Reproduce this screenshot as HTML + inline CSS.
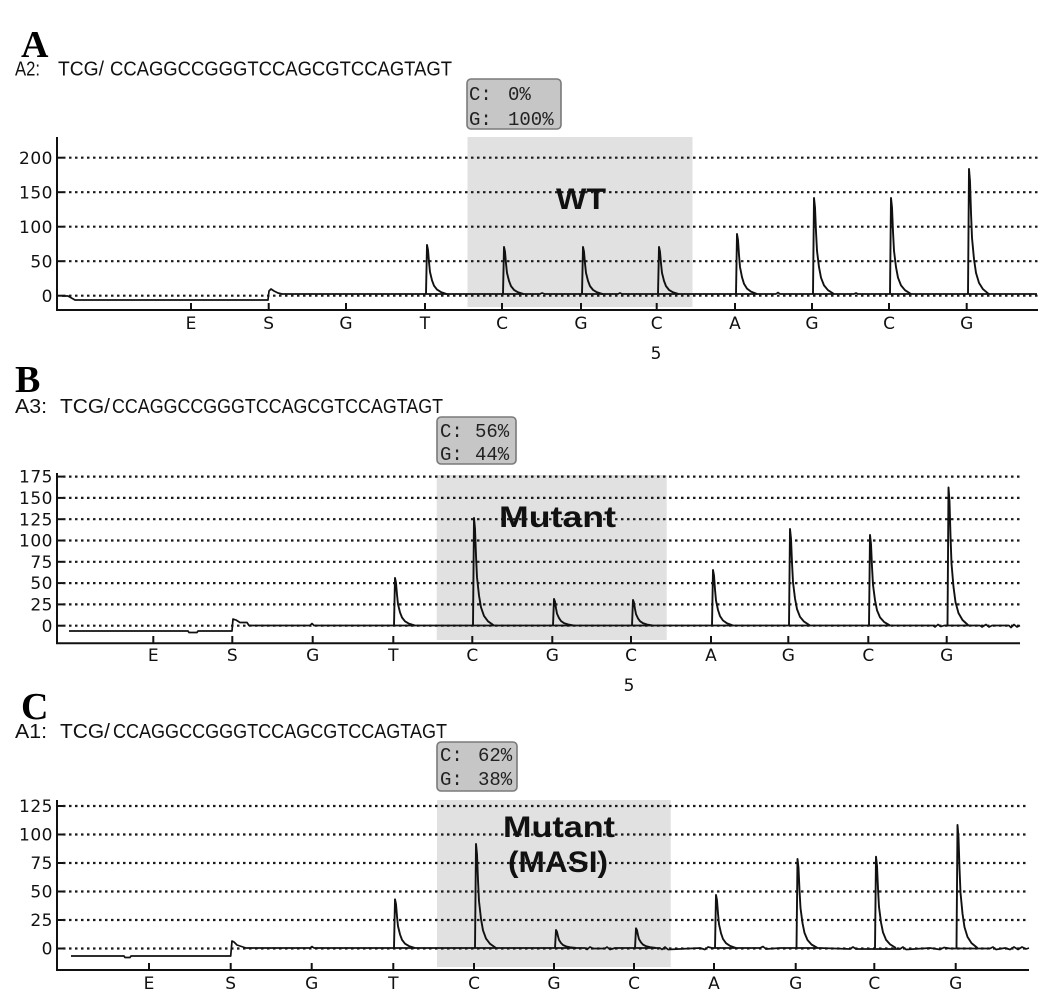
<!DOCTYPE html>
<html><head><meta charset="utf-8"><style>
html,body{margin:0;padding:0;background:#fff;}
svg{display:block;}
.tk{font-family:"DejaVu Sans","Liberation Sans",sans-serif;font-size:17px;fill:#111;letter-spacing:0.5px;}
.xl{font-family:"DejaVu Sans","Liberation Sans",sans-serif;font-size:17px;fill:#111;text-anchor:middle;}
.seq{font-family:"Liberation Sans",Arial,sans-serif;font-size:20px;fill:#111;}
.pl{font-family:"Liberation Serif",serif;font-weight:bold;font-size:38px;fill:#000;}
.mono{font-family:"Liberation Mono","DejaVu Sans Mono",monospace;font-size:19px;fill:#222;}
.ann{font-family:"Liberation Sans","DejaVu Sans",sans-serif;font-weight:bold;font-size:30px;fill:#111;}
.grid{stroke:#1a1a1a;stroke-width:2.2;stroke-dasharray:2.5 3.5;fill:none;}
.ax{stroke:#111;stroke-width:2;fill:none;}
.tr{stroke:#111;stroke-width:1.7;fill:none;stroke-linejoin:round;}
.pk{stroke:#111;stroke-width:1.9;fill:none;stroke-linejoin:round;}
.box{fill:#c6c6c6;stroke:#7a7a7a;stroke-width:1.6;}
.shade{fill:#e1e1e1;}
</style></head><body>
<svg width="1045" height="1002" viewBox="0 0 1045 1002" xmlns="http://www.w3.org/2000/svg">
<rect width="1045" height="1002" fill="#fff"/>

<!-- ================= PANEL A ================= -->
<text class="pl" x="21" y="57">A</text>
<text class="seq" x="15" y="75.5" textLength="25" lengthAdjust="spacingAndGlyphs">A2:</text>
<text class="seq" x="58" y="75.5" textLength="46" lengthAdjust="spacingAndGlyphs">TCG/</text>
<text class="seq" x="110" y="75.5" textLength="342" lengthAdjust="spacingAndGlyphs">CCAGGCCGGGTCCAGCGTCCAGTAGT</text>

<rect class="box" x="467" y="79" width="94" height="50" rx="4"/>
<text class="mono" x="469" y="100">C:</text><text class="mono" x="508" y="100">0%</text>
<text class="mono" x="469" y="125">G:</text><text class="mono" x="508" y="125">100%</text>

<rect class="shade" x="467.5" y="137" width="225" height="170"/>

<g>
<line class="grid" x1="63" y1="157.7" x2="1038" y2="157.7"/>
<line class="grid" x1="63" y1="192.2" x2="1038" y2="192.2"/>
<line class="grid" x1="63" y1="226.7" x2="1038" y2="226.7"/>
<line class="grid" x1="63" y1="261.2" x2="1038" y2="261.2"/>
<line class="grid" x1="63" y1="295.7" x2="1038" y2="295.7"/>
</g>
<g class="ax">
<line x1="57" y1="137" x2="57" y2="311"/>
<line x1="56" y1="310" x2="1038" y2="310"/>
<line x1="57" y1="157.7" x2="63" y2="157.7"/>
<line x1="57" y1="192.2" x2="63" y2="192.2"/>
<line x1="57" y1="226.7" x2="63" y2="226.7"/>
<line x1="57" y1="261.2" x2="63" y2="261.2"/>
<line x1="57" y1="295.7" x2="63" y2="295.7"/>
<line x1="191" y1="303" x2="191" y2="310"/>
<line x1="268.7" y1="303" x2="268.7" y2="310"/>
<line x1="346" y1="303" x2="346" y2="310"/>
<line x1="425" y1="303" x2="425" y2="310"/>
<line x1="502" y1="303" x2="502" y2="310"/>
<line x1="581" y1="303" x2="581" y2="310"/>
<line x1="656.7" y1="303" x2="656.7" y2="310"/>
<line x1="735" y1="303" x2="735" y2="310"/>
<line x1="812" y1="303" x2="812" y2="310"/>
<line x1="889" y1="303" x2="889" y2="310"/>
<line x1="966.7" y1="303" x2="966.7" y2="310"/>
</g>
<g class="tk" text-anchor="end">
<text x="53" y="163.8">200</text>
<text x="53" y="198.3">150</text>
<text x="53" y="232.8">100</text>
<text x="53" y="267.3">50</text>
<text x="53" y="301.8">0</text>
</g>
<g class="xl">
<text x="191" y="329">E</text><text x="268.7" y="329">S</text><text x="346" y="329">G</text>
<text x="425" y="329">T</text><text x="502" y="329">C</text><text x="581" y="329">G</text>
<text x="656.7" y="329">C</text><text x="735" y="329">A</text><text x="812" y="329">G</text>
<text x="889" y="329">C</text><text x="966.7" y="329">G</text>
<text x="656" y="359">5</text>
</g>
<path class="tr" d="M62,296 L68,296 L75,300 L268,300 L269,291 L271,289 L274,291 L278,293 L282,294 L540,294 L542,293 L545,294 L618,294 L620,293 L622,294 L776,294 L778,292.5 L780,294 L854,294 L856,293 L858,294 L1037,294"/>
<g class="pk">
<path d="M426,294 l1,-49 l1,4.9 l1,12.3 l1,9.8 l2,8.3 l2,5.4 l3,3.9 l4,2.5 l6,2"/>
<path d="M503,294 l1,-47 l1,4.7 l1,11.8 l1,9.4 l2,8 l2,5.2 l3,3.8 l4,2.4 l6,1.9"/>
<path d="M582,294 l1,-47 l1,4.7 l1,11.8 l1,9.4 l2,8 l2,5.2 l3,3.8 l4,2.4 l6,1.9"/>
<path d="M658,294 l1,-47 l1,4.7 l1,11.8 l1,9.4 l2,8 l2,5.2 l3,3.8 l4,2.4 l6,1.9"/>
<path d="M736,294 l1,-60 l1,6 l1,15 l1,12 l2,10.2 l2,6.6 l3,4.8 l4,3 l6,2.4"/>
<path d="M813,294 l1,-96 l1,9.6 l1,24 l1,19.2 l2,16.3 l2,10.6 l3,7.7 l4,4.8 l6,3.8"/>
<path d="M890,294 l1,-96 l1,9.6 l1,24 l1,19.2 l2,16.3 l2,10.6 l3,7.7 l4,4.8 l6,3.8"/>
<path d="M968,294 l1,-125 l1,12.5 l1,31.3 l1,25 l2,21.3 l2,13.8 l3,10 l4,6.3 l6,5"/>
</g>
<text class="ann" x="556" y="209" textLength="50" lengthAdjust="spacingAndGlyphs">WT</text>

<!-- ================= PANEL B ================= -->
<text class="pl" x="15" y="392">B</text>
<text class="seq" x="15" y="413" textLength="32" lengthAdjust="spacingAndGlyphs">A3:</text>
<text class="seq" x="60" y="413" textLength="50" lengthAdjust="spacingAndGlyphs">TCG/</text>
<text class="seq" x="112" y="413" textLength="331" lengthAdjust="spacingAndGlyphs">CCAGGCCGGGTCCAGCGTCCAGTAGT</text>

<rect class="box" x="437" y="417" width="79" height="47" rx="4"/>
<text class="mono" x="440" y="437">C:</text><text class="mono" x="475" y="437">56%</text>
<text class="mono" x="440" y="460">G:</text><text class="mono" x="475" y="460">44%</text>

<rect class="shade" x="436.7" y="475" width="230" height="165"/>

<g>
<line class="grid" x1="63" y1="476.6" x2="1020" y2="476.6"/>
<line class="grid" x1="63" y1="497.9" x2="1020" y2="497.9"/>
<line class="grid" x1="63" y1="519.2" x2="1020" y2="519.2"/>
<line class="grid" x1="63" y1="540.5" x2="1020" y2="540.5"/>
<line class="grid" x1="63" y1="561.8" x2="1020" y2="561.8"/>
<line class="grid" x1="63" y1="583.1" x2="1020" y2="583.1"/>
<line class="grid" x1="63" y1="604.4" x2="1020" y2="604.4"/>
<line class="grid" x1="63" y1="625.7" x2="1020" y2="625.7"/>
</g>
<g class="ax">
<line x1="57" y1="473" x2="57" y2="644"/>
<line x1="56" y1="643.3" x2="1020" y2="643.3"/>
<line x1="57" y1="476.6" x2="63" y2="476.6"/>
<line x1="57" y1="497.9" x2="63" y2="497.9"/>
<line x1="57" y1="519.2" x2="63" y2="519.2"/>
<line x1="57" y1="540.5" x2="63" y2="540.5"/>
<line x1="57" y1="561.8" x2="63" y2="561.8"/>
<line x1="57" y1="583.1" x2="63" y2="583.1"/>
<line x1="57" y1="604.4" x2="63" y2="604.4"/>
<line x1="57" y1="625.7" x2="63" y2="625.7"/>
<line x1="153.3" y1="636" x2="153.3" y2="643"/>
<line x1="232.3" y1="636" x2="232.3" y2="643"/>
<line x1="312.7" y1="636" x2="312.7" y2="643"/>
<line x1="393.3" y1="636" x2="393.3" y2="643"/>
<line x1="472.3" y1="636" x2="472.3" y2="643"/>
<line x1="552.3" y1="636" x2="552.3" y2="643"/>
<line x1="631" y1="636" x2="631" y2="643"/>
<line x1="711" y1="636" x2="711" y2="643"/>
<line x1="788.3" y1="636" x2="788.3" y2="643"/>
<line x1="868.3" y1="636" x2="868.3" y2="643"/>
<line x1="946.7" y1="636" x2="946.7" y2="643"/>
</g>
<g class="tk" text-anchor="end">
<text x="53" y="482.7">175</text>
<text x="53" y="504">150</text>
<text x="53" y="525.3">125</text>
<text x="53" y="546.6">100</text>
<text x="53" y="567.9">75</text>
<text x="53" y="589.2">50</text>
<text x="53" y="610.5">25</text>
<text x="53" y="631.8">0</text>
</g>
<g class="xl">
<text x="153.3" y="661">E</text><text x="232.3" y="661">S</text><text x="312.7" y="661">G</text>
<text x="393.3" y="661">T</text><text x="472.3" y="661">C</text><text x="552.3" y="661">G</text>
<text x="631" y="661">C</text><text x="711" y="661">A</text><text x="788.3" y="661">G</text>
<text x="868.3" y="661">C</text><text x="946.7" y="661">G</text>
<text x="629" y="691">5</text>
</g>
<path class="tr" d="M69,631 L188,631 L189,632.5 L197,632.5 L198,631 L232,631 L233,619 L236,620 L240,622.5 L247,622.5 L249,625.5 L310,625.5 L312,623.5 L314,625.5 L933,625.5 L935,627 L938,624.5 L941,626.5 L944,625.5 L980,625.5 L982,627 L986,624.5 L989,627 L992,625.5 L1009,625.5 L1011,627.5 L1014,624.5 L1017,627 L1020,625.5"/>
<g class="pk">
<path d="M394,625.5 l1,-47.5 l1,4.8 l1,11.9 l1,9.5 l2,8.1 l2,5.2 l3,3.8 l4,2.4 l6,1.8"/>
<path d="M473,625.5 l1,-107.5 l1,10.8 l1,26.9 l1,21.5 l2,18.3 l2,11.8 l3,8.6 l4,5.4 l6,4.2"/>
<path d="M553,625.5 l1,-26.5 l1,2.7 l1,6.6 l1,5.3 l2,4.5 l2,2.9 l3,2.1 l4,1.3 l6,1.1"/>
<path d="M632,625.5 l1,-25.5 l1,2.6 l1,6.4 l1,5.1 l2,4.3 l2,2.8 l3,2 l4,1.3 l6,1"/>
<path d="M712,625.5 l1,-55.5 l1,5.6 l1,13.9 l1,11.1 l2,9.4 l2,6.1 l3,4.4 l4,2.8 l6,2.2"/>
<path d="M789,625.5 l1,-96.5 l1,9.7 l1,24.1 l1,19.3 l2,16.4 l2,10.6 l3,7.7 l4,4.8 l6,3.9"/>
<path d="M869,625.5 l1,-90.5 l1,9.1 l1,22.6 l1,18.1 l2,15.4 l2,10 l3,7.2 l4,4.5 l6,3.6"/>
<path d="M947.5,625.5 l1,-138 l1,13.8 l1,34.5 l1,27.6 l2,23.5 l2,15.2 l3,11 l4,6.9 l6,5.5"/>
</g>
<text class="ann" x="499" y="527" textLength="117" lengthAdjust="spacingAndGlyphs">Mutant</text>

<!-- ================= PANEL C ================= -->
<text class="pl" x="21" y="719">C</text>
<text class="seq" x="15" y="738" textLength="32" lengthAdjust="spacingAndGlyphs">A1:</text>
<text class="seq" x="60" y="738" textLength="50" lengthAdjust="spacingAndGlyphs">TCG/</text>
<text class="seq" x="113" y="738" textLength="334" lengthAdjust="spacingAndGlyphs">CCAGGCCGGGTCCAGCGTCCAGTAGT</text>

<rect class="box" x="437" y="742" width="80" height="49" rx="4"/>
<text class="mono" x="440" y="761">C:</text><text class="mono" x="478" y="761">62%</text>
<text class="mono" x="440" y="785">G:</text><text class="mono" x="478" y="785">38%</text>

<rect class="shade" x="437" y="800" width="233.7" height="167"/>

<g>
<line class="grid" x1="63" y1="806" x2="1029" y2="806"/>
<line class="grid" x1="63" y1="834.5" x2="1029" y2="834.5"/>
<line class="grid" x1="63" y1="863" x2="1029" y2="863"/>
<line class="grid" x1="63" y1="891.5" x2="1029" y2="891.5"/>
<line class="grid" x1="63" y1="920" x2="1029" y2="920"/>
<line class="grid" x1="63" y1="948.5" x2="1029" y2="948.5"/>
</g>
<g class="ax">
<line x1="57" y1="800" x2="57" y2="971"/>
<line x1="56" y1="970" x2="1029" y2="970"/>
<line x1="57" y1="806" x2="63" y2="806"/>
<line x1="57" y1="834.5" x2="63" y2="834.5"/>
<line x1="57" y1="863" x2="63" y2="863"/>
<line x1="57" y1="891.5" x2="63" y2="891.5"/>
<line x1="57" y1="920" x2="63" y2="920"/>
<line x1="57" y1="948.5" x2="63" y2="948.5"/>
<line x1="149" y1="963" x2="149" y2="970"/>
<line x1="230.7" y1="963" x2="230.7" y2="970"/>
<line x1="311.7" y1="963" x2="311.7" y2="970"/>
<line x1="393.3" y1="963" x2="393.3" y2="970"/>
<line x1="474" y1="963" x2="474" y2="970"/>
<line x1="554" y1="963" x2="554" y2="970"/>
<line x1="634" y1="963" x2="634" y2="970"/>
<line x1="714" y1="963" x2="714" y2="970"/>
<line x1="795.7" y1="963" x2="795.7" y2="970"/>
<line x1="874.3" y1="963" x2="874.3" y2="970"/>
<line x1="955.7" y1="963" x2="955.7" y2="970"/>
</g>
<g class="tk" text-anchor="end">
<text x="53" y="812.1">125</text>
<text x="53" y="840.6">100</text>
<text x="53" y="869.1">75</text>
<text x="53" y="897.6">50</text>
<text x="53" y="926.1">25</text>
<text x="53" y="954.6">0</text>
</g>
<g class="xl">
<text x="149" y="989">E</text><text x="230.7" y="989">S</text><text x="311.7" y="989">G</text>
<text x="393.3" y="989">T</text><text x="474" y="989">C</text><text x="554" y="989">G</text>
<text x="634" y="989">C</text><text x="714" y="989">A</text><text x="795.7" y="989">G</text>
<text x="874.3" y="989">C</text><text x="955.7" y="989">G</text>
</g>
<path class="tr" d="M71,956 L124,956 L125,957.5 L130,957.5 L131,956 L230.7,956 L232,941 L234,942 L237,945 L243,947 L246,948 L310,948 L312,946.5 L314,948 L585,948 L587,949.5 L590,947 L593,948.5 L605,948.5 L607,947 L610,949.5 L615,948 L660,948 L662,949.5 L665,947 L668,949.5 L700,948 L705,949.5 L708,947 L712,948 L760,948 L763,946.5 L766,949 L780,948 L820,948 L850,949 L853,947 L856,949 L900,949 L903,947 L906,949.5 L930,948 L940,949.5 L944,947.5 L950,948.5 L990,948.5 L993,947 L996,949.5 L1005,948 L1010,949.5 L1014,947 L1018,949.5 L1022,947 L1026,949 L1029,948"/>
<g class="pk">
<path d="M394,948 l1,-48.7 l1,4.9 l1,12.2 l1,9.7 l2,8.3 l2,5.4 l3,3.9 l4,2.4 l6,1.9"/>
<path d="M475,948 l1,-104 l1,10.4 l1,26 l1,20.8 l2,17.7 l2,11.4 l3,8.3 l4,5.2 l6,4.2"/>
<path d="M555,948 l1,-18 l1,1.8 l1,4.5 l1,3.6 l2,3.1 l2,2 l3,1.4 l4,0.9 l6,0.7"/>
<path d="M635,948 l1,-19.7 l1,2 l1,4.9 l1,3.9 l2,3.3 l2,2.2 l3,1.6 l4,1 l6,0.8"/>
<path d="M715,948 l1,-53 l1,5.3 l1,13.3 l1,10.6 l2,9 l2,5.8 l3,4.2 l4,2.7 l6,2.1"/>
<path d="M796.5,948 l1,-89 l1,8.9 l1,22.3 l1,17.8 l2,15.1 l2,9.8 l3,7.1 l4,4.5 l6,3.5"/>
<path d="M875,948 l1,-91.3 l1,9.1 l1,22.8 l1,18.3 l2,15.5 l2,10 l3,7.3 l4,4.6 l6,3.7"/>
<path d="M956.5,948 l1,-123 l1,12.3 l1,30.8 l1,24.6 l2,20.9 l2,13.5 l3,9.8 l4,6.2 l6,4.9"/>
</g>
<text class="ann" x="503" y="837" textLength="112" lengthAdjust="spacingAndGlyphs">Mutant</text>
<text class="ann" x="508" y="872" textLength="100" lengthAdjust="spacingAndGlyphs">(MASI)</text>
</svg>
</body></html>
